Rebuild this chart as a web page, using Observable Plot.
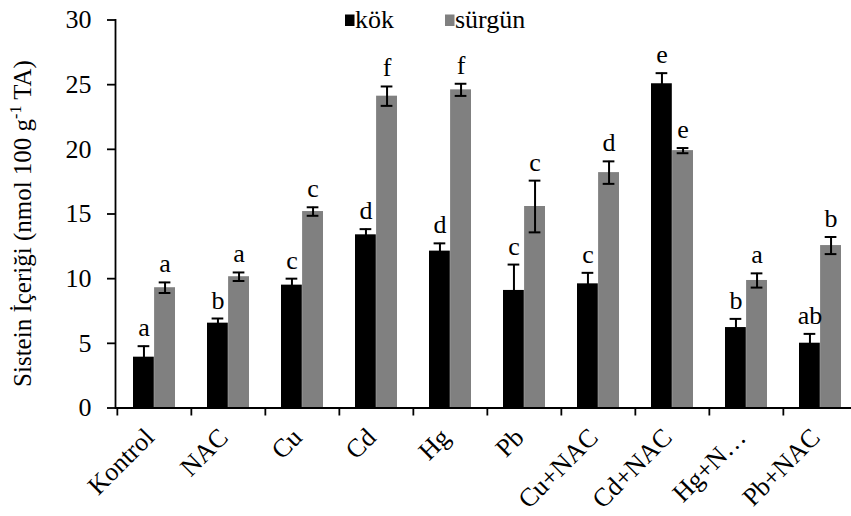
<!DOCTYPE html>
<html><head><meta charset="utf-8">
<script src="https://cdn.jsdelivr.net/npm/d3@7"></script>
<script src="https://cdn.jsdelivr.net/npm/@observablehq/plot@0.6"></script>
<style>
body{margin:0;background:#fff}
#chart{position:relative;width:851px;height:516px;overflow:hidden}
</style>
</head><body><div id="chart"></div>
<script>
// ---- data ----
const categories = ["Kontrol","NAC","Cu","Cd","Hg","Pb","Cu+NAC","Cd+NAC","Hg+NAC","Pb+NAC"];
const tickLabels = ["Kontrol","NAC","Cu","Cd","Hg","Pb","Cu+NAC","Cd+NAC","Hg+N\u2026","Pb+NAC"];
const seriesNames = ["kök","sürgün"];
const kok       = [3.93, 6.56, 9.50, 13.39, 12.13, 9.09, 9.60, 25.07, 6.22, 5.01];
const kokErr    = [0.85, 0.36, 0.50, 0.44, 0.60, 2.00, 0.85, 0.82, 0.67, 0.72];
const surgun    = [9.30, 10.15, 15.19, 24.11, 24.60, 15.58, 18.20, 19.90, 9.86, 12.56];
const surgunErr = [0.41, 0.33, 0.33, 0.75, 0.47, 2.00, 0.87, 0.20, 0.55, 0.66];
const kokLetters    = ["a","b","c","d","d","c","c","e","b","ab"];
const surgunLetters = ["a","a","c","f","f","c","d","e","a","b"];
const yTicks = [0,5,10,15,20,25,30];

const kokRows = categories.map((c,i)=>({cat:c, value:kok[i], err:kokErr[i], letter:kokLetters[i]}));
const surRows = categories.map((c,i)=>({cat:c, value:surgun[i], err:surgunErr[i], letter:surgunLetters[i]}));

const FONT = '"Liberation Serif", "Times New Roman", Times, serif';
const BLACK = "#000000", GREY = "#808080";
const bw = 74.3;            // band width in px (style constant)
const off = 10.55;          // half bar offset from band centre

const plot = Plot.plot({
  width: 851, height: 516,
  marginLeft: 115, marginRight: 0, marginTop: 19.5, marginBottom: 108.5,
  style: {fontFamily: FONT, fontSize: "26px", background: "white", color: "black"},
  x: {type: "band", domain: categories, range: [115, 858], padding: 0},
  y: {domain: [0, 30], range: [407.5, 19.5]},
  marks: [
    Plot.barY(kokRows, {x: "cat", y: "value", fill: BLACK, insetLeft: 16, insetRight: 37.2}),
    Plot.barY(surRows, {x: "cat", y: "value", fill: GREY, insetLeft: 37.1, insetRight: 16}),
    // error bars
    Plot.ruleX(kokRows, {x: "cat", y1: d=>d.value-d.err, y2: d=>d.value+d.err, dx: -off, stroke: BLACK, strokeWidth: 2}),
    Plot.ruleX(surRows, {x: "cat", y1: d=>d.value-d.err, y2: d=>d.value+d.err, dx: off, stroke: BLACK, strokeWidth: 2}),
    Plot.tickY(kokRows, {x: "cat", y: d=>d.value+d.err, insetLeft: 20.6, insetRight: 41.7, stroke: BLACK, strokeWidth: 2}),
    Plot.tickY(kokRows, {x: "cat", y: d=>d.value-d.err, insetLeft: 20.6, insetRight: 41.7, stroke: BLACK, strokeWidth: 2}),
    Plot.tickY(surRows, {x: "cat", y: d=>d.value+d.err, insetLeft: 41.7, insetRight: 20.6, stroke: BLACK, strokeWidth: 2}),
    Plot.tickY(surRows, {x: "cat", y: d=>d.value-d.err, insetLeft: 41.7, insetRight: 20.6, stroke: BLACK, strokeWidth: 2}),
    // significance letters
    Plot.text(kokRows, {x: "cat", y: d=>d.value+d.err, text: "letter", dx: -off, dy: -10, lineAnchor: "bottom", fontSize: 26, fill: BLACK}),
    Plot.text(surRows, {x: "cat", y: d=>d.value+d.err, text: "letter", dx: off, dy: -10, lineAnchor: "bottom", fontSize: 26, fill: BLACK}),
    // axes
    Plot.frame({anchor: "left", stroke: BLACK, strokeWidth: 1.8}),
    Plot.ruleY([0], {stroke: BLACK, strokeWidth: 1.8}),
    Plot.axisY({ticks: yTicks, tickSize: 8, tickPadding: 16, fontSize: 26, label: null, stroke: BLACK, strokeWidth: 1.8, tickFormat: d=>String(d)}),
    Plot.axisX({tickSize: 8, tickFormat: () => "", dx: -bw/2, label: null, stroke: BLACK, strokeWidth: 1.8}),
    Plot.text(categories, {x: d=>d, frameAnchor: "bottom", text: (d,i)=>tickLabels[i], rotate: -45, textAnchor: "end", dx: 1, dy: 31, fontSize: 26, fill: BLACK})
  ]
});

const chart = document.getElementById("chart");
chart.appendChild(plot);

// y-axis title with superscript and legend
const svg = d3.select(plot);
const yt = svg.append("text")
  .attr("transform", "translate(30.5,223.5) rotate(-90)")
  .attr("text-anchor", "middle")
  .attr("font-family", FONT).attr("font-size", 25).attr("fill", BLACK);
yt.append("tspan").text("Sistein İçeriği (nmol 100 g");
yt.append("tspan").attr("font-size", 16).attr("dy", -10).text("-1");
yt.append("tspan").attr("dy", 10).text(" TA)");

const legendItems = [{name: seriesNames[0], color: BLACK, x: 345}, {name: seriesNames[1], color: GREY, x: 445}];
const lg = svg.append("g");
legendItems.forEach(it => {
  lg.append("rect").attr("x", it.x).attr("y", 14.5).attr("width", 9.5).attr("height", 11.5).attr("fill", it.color);
  lg.append("text").attr("x", it.x + 10).attr("y", 28).attr("text-anchor", "start")
    .attr("font-family", FONT).attr("font-size", 26).attr("fill", BLACK).text(it.name);
});
</script>
</body></html>
